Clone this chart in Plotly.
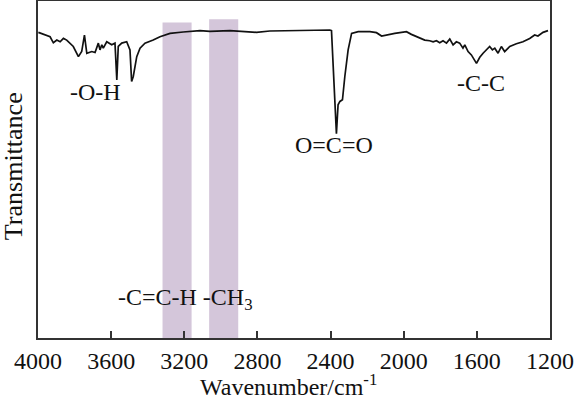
import plotly.graph_objects as go

# FTIR spectrum (wavenumber in cm-1, transmittance in arbitrary units)
wavenumber = [3998, 3934, 3916, 3897, 3879, 3861, 3843, 3807, 3779, 3761, 3746, 3733, 3706, 3688,
              3670, 3661, 3651, 3643, 3624, 3597, 3579, 3569, 3561, 3542, 3515, 3497, 3488, 3479,
              3460, 3442, 3415, 3370, 3333, 3278, 3206, 3114, 3060, 2950, 2805, 2732, 2404, 2395,
              2368, 2359, 2349, 2335, 2322, 2304, 2285, 2249, 2185, 2149, 2121, 2085, 2049, 2021,
              1985, 1958, 1921, 1885, 1858, 1839, 1821, 1803, 1785, 1766, 1748, 1730, 1712, 1694,
              1676, 1666, 1648, 1630, 1602, 1584, 1566, 1548, 1530, 1515, 1502, 1484, 1466, 1448,
              1420, 1384, 1348, 1311, 1284, 1266, 1238, 1211]
transmittance = [90.7, 89.4, 87.6, 88.4, 87.9, 88.9, 88.4, 86.5, 83.5, 85.0, 89.9, 84.5, 85.0, 84.7,
                 87.5, 85.5, 87.0, 86.0, 87.9, 87.0, 87.5, 76.6, 86.5, 87.5, 87.9, 85.5, 76.1, 77.6,
                 83.5, 86.0, 87.5, 88.4, 89.4, 90.4, 90.8, 91.2, 91.0, 91.2, 90.7, 91.1, 91.4, 91.2,
                 60.6, 69.2, 70.2, 70.7, 77.6, 85.5, 90.4, 90.9, 90.9, 90.6, 89.6, 90.1, 90.4, 90.6,
                 90.9, 90.1, 89.2, 88.4, 88.2, 87.9, 88.2, 87.6, 88.2, 87.5, 88.7, 87.0, 87.9, 87.5,
                 86.0, 87.0, 85.0, 84.0, 81.5, 83.3, 84.5, 85.5, 86.5, 85.5, 86.0, 84.5, 86.5, 85.0,
                 86.5, 87.3, 87.9, 88.9, 89.9, 89.6, 90.7, 91.2]

# shaded bands
band_lo = [3319, 3064]
band_hi = [3160, 2905]
band_top = [93.6, 94.6]

# peak labels
label_text = ["-O-H", "O=C=O", "-C-C", "-C=C-H -CH<sub>3</sub>"]
label_x = [3688, 2382, 1579, 3195]
label_y = [73.0, 57.3, 75.6, 11.5]

serif = "Liberation Serif"

fig = go.Figure()

fig.add_trace(go.Scatter(x=wavenumber, y=transmittance, mode="lines",
                         line=dict(color="#111111", width=1.7), showlegend=False))

for lo, hi, top in zip(band_lo, band_hi, band_top):
    fig.add_shape(type="rect", x0=lo, x1=hi, y0=0, y1=top, xref="x", yref="y",
                  fillcolor="#d4c6da", line=dict(width=0), layer="below")

for t, x, y in zip(label_text, label_x, label_y):
    fig.add_annotation(x=x, y=y, text=t, showarrow=False,
                       font=dict(family=serif, size=24, color="#111111"))

# axis titles placed by hand
fig.add_annotation(xref="paper", yref="paper", x=0.49, y=0, yshift=-47, yanchor="middle",
                   text="Wavenumber/cm<sup>-1</sup>", showarrow=False,
                   font=dict(family=serif, size=24, color="#111111"))
fig.add_annotation(xref="paper", yref="paper", x=0, xshift=-25, y=0.51, xanchor="center",
                   textangle=-90, text="Transmittance", showarrow=False,
                   font=dict(family=serif, size=26, color="#111111"))

fig.update_layout(
    width=577, height=401,
    margin=dict(l=38, r=27, t=1, b=63),
    paper_bgcolor="white", plot_bgcolor="white",
    font=dict(family=serif, color="#111111"),
)
fig.update_xaxes(range=[4000, 1200], tickvals=[4000, 3600, 3200, 2800, 2400, 2000, 1600, 1200],
                 ticks="inside", ticklen=7, tickwidth=1.5, tickcolor="#333333",
                 showline=True, linecolor="#333333", linewidth=1.5, mirror=True,
                 showgrid=False, zeroline=False, automargin=False,
                 tickfont=dict(family=serif, size=24))
fig.update_yaxes(range=[0, 100], showticklabels=False, ticks="",
                 showline=True, linecolor="#333333", linewidth=1.5, mirror=True,
                 showgrid=False, zeroline=False, automargin=False)

# drop the page's default body margin so the figure sits at the window corner
fig.write_html("out.html", config={"displayModeBar": False},
               post_script="document.body.style.margin='0';")
